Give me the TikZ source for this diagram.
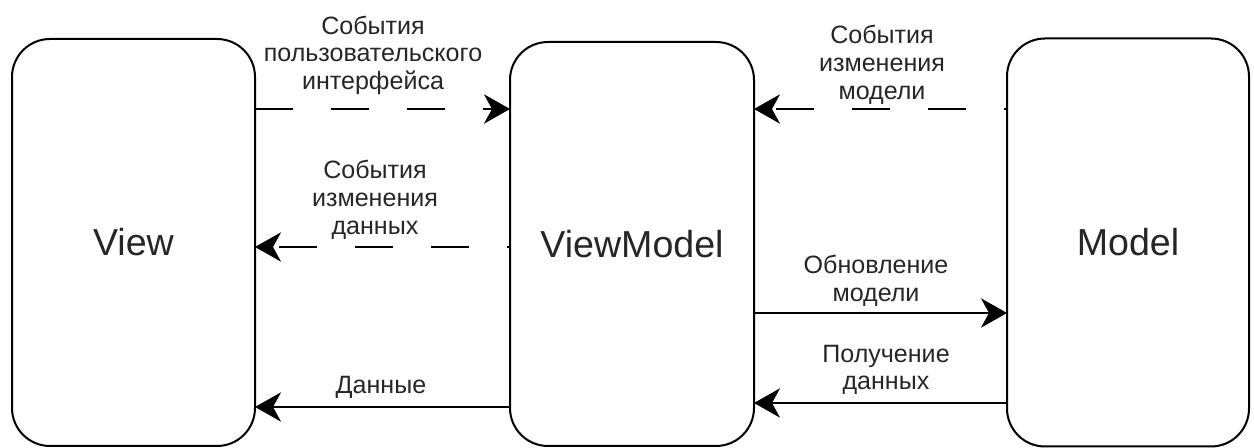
\documentclass[tikz,border=0pt]{standalone}
\usepackage{fontspec}
\setmainfont{Liberation Sans}
\usetikzlibrary{arrows.meta}
\begin{document}
\begin{tikzpicture}[x=0.75pt,y=-0.75pt,
  block/.style={draw=black, line width=1.5pt, rounded corners=28.5pt, fill=white,
    inner sep=0pt, outer sep=0pt, text=black!85, font=\fontsize{28.2}{33}\selectfont},
  lbl/.style={align=center, inner sep=0pt, anchor=north, text=black!85,
    font=\fontsize{18.8}{20.8}\selectfont},
  link/.style={line width=1.5pt, -{Stealth[length=19.5pt,width=22pt,inset=6pt]}},
  dashlink/.style={link, dash pattern=on 28.5pt off 28.5pt}]
\useasboundingbox (0,0) rectangle (1254,448);

% the three layers
\node[block, minimum width=182.25pt, minimum height=305.25pt] (view) at (133.5,242.5) {View};
\node[block, minimum width=183pt, minimum height=303pt] (vm) at (632,244) {ViewModel};
\node[block, minimum width=181.5pt, minimum height=306pt] (model) at (1128,242.5) {Model};

% View <-> ViewModel
\draw[dashlink] (view.east |- 0,109) -- (vm.west |- 0,109);
\draw[dashlink, dash phase=26.25pt] (vm.west |- 0,247) -- (view.east |- 0,247);
\draw[link] (vm.west |- 0,407) -- (view.east |- 0,407);

% ViewModel <-> Model
\draw[dashlink, dash phase=26.25pt] (model.west |- 0,109) -- (vm.east |- 0,109);
\draw[link] (vm.east |- 0,313) -- (model.west |- 0,313);
\draw[link] (model.west |- 0,403) -- (vm.east |- 0,403);

% connector labels
\node[lbl] (l1) at (373,15.5) {События\\пользовательского\\интерфейса};
\node[lbl] (l2) at (375,160) {События\\изменения\\данных};
\node[lbl] (l3) at (882,25) {События\\изменения\\модели};
\node[lbl] (l4) at (876,255) {Обновление\\модели};
\node[lbl] (l5) at (886,344.5) {Получение\\данных};
\node[lbl] (l6) at (381,375.5) {Данные};
\end{tikzpicture}
\end{document}
